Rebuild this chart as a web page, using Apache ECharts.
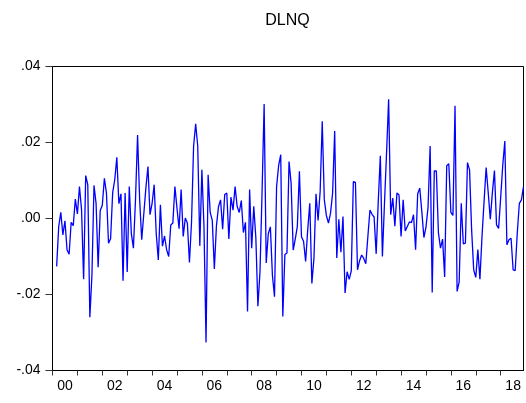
<!DOCTYPE html>
<html>
<head>
<meta charset="utf-8">
<script src="https://cdn.jsdelivr.net/npm/echarts@6/dist/echarts.min.js"></script>
<style>
html,body{margin:0;padding:0;background:#fff;}
#chart{width:526px;height:403px;}
</style>
</head>
<body>
<div id="chart"></div>
<script>
const title = 'DLNQ';
const years = [2000,2001,2002,2003,2004,2005,2006,2007,2008,2009,2010,2011,2012,2013,2014,2015,2016,2017,2018];
const leadingMissing = 2;
const dlnq = [
-0.0126,-0.0021,0.0016,-0.0043,-0.0006,-0.0082,-0.0094,-0.0010,-0.0019,0.0051,
0.0012,0.0084,0.0023,-0.0160,0.0113,0.0089,-0.0260,-0.0150,0.0087,0.0040,
-0.0128,0.0021,0.0035,0.0106,0.0067,-0.0065,-0.0053,0.0068,0.0102,0.0161,
0.0039,0.0065,-0.0164,0.0067,-0.0141,0.0084,-0.0040,-0.0078,0.0050,0.0220,
0.0050,-0.0056,0.0012,0.0080,0.0137,0.0010,0.0040,0.0089,-0.0040,-0.0109,
0.0036,-0.0073,-0.0046,-0.0082,-0.0100,-0.0017,-0.0012,0.0084,0.0027,-0.0027,
0.0076,-0.0047,0.0001,-0.0012,-0.0116,-0.0010,0.0190,0.0249,0.0190,-0.0072,
0.0128,-0.0020,-0.0326,0.0115,0.0016,-0.0005,-0.0133,-0.0020,0.0031,0.0049,
-0.0028,0.0063,0.0067,-0.0054,0.0056,0.0022,0.0084,0.0032,0.0016,0.0047,
-0.0037,-0.0010,-0.0245,0.0076,-0.0078,0.0032,-0.0050,-0.0231,-0.0140,0.0070,
0.0301,-0.0117,-0.0040,-0.0022,-0.0150,-0.0206,0.0084,0.0140,0.0168,-0.0258,
-0.0095,-0.0091,0.0150,0.0093,-0.0083,-0.0054,-0.0021,0.0124,-0.0048,-0.0060,
-0.0113,-0.0030,0.0040,-0.0171,-0.0105,0.0065,-0.0005,0.0072,0.0256,0.0049,
0.0008,-0.0012,0.0014,0.0067,0.0230,-0.0104,-0.0002,-0.0089,0.0005,-0.0196,
-0.0140,-0.0160,-0.0138,0.0097,0.0095,-0.0135,-0.0111,-0.0096,-0.0105,-0.0119,
-0.0047,0.0022,0.0011,0.0004,-0.0093,0.0045,0.0165,-0.0100,0.0040,0.0172,
0.0314,0.0010,0.0054,-0.0020,0.0067,0.0062,-0.0047,0.0049,-0.0033,-0.0021,
-0.0009,-0.0011,0.0010,-0.0082,0.0065,0.0080,0.0018,-0.0050,-0.0023,0.0030,
0.0191,-0.0195,0.0125,0.0125,-0.0038,-0.0078,-0.0054,-0.0154,0.0139,0.0144,
0.0016,0.0008,0.0297,-0.0192,-0.0167,0.0040,-0.0067,-0.0065,0.0147,0.0128,
-0.0030,-0.0135,-0.0155,-0.0082,-0.0160,-0.0047,0.0045,0.0134,0.0068,-0.0002,
0.0068,0.0126,-0.0017,-0.0026,0.0055,0.0140,0.0204,-0.0069,-0.0056,-0.0052,
-0.0135,-0.0137,-0.0038,0.0040,0.0049,0.0084
];
const yMin = -0.04, yMax = 0.04, yStep = 0.02;

const months = [];
years.forEach(y => { for (let m = 1; m <= 12; m++) months.push(y + '-' + (m < 10 ? '0' + m : m)); });
const seriesData = [];
for (let i = 0; i < leadingMissing; i++) seriesData.push(null);
dlnq.forEach(v => seriesData.push(v));

function fmtY(v) {
  if (Math.abs(v) < 1e-9) return '.00';
  const s = Math.abs(v).toFixed(2).replace(/^0/, '');
  return (v < 0 ? '-' : '') + s;
}

const FONT = 'Liberation Sans, Arial, sans-serif';
const chart = echarts.init(document.getElementById('chart'), null, {renderer: 'canvas'});
chart.setOption({
  animation: false,
  backgroundColor: '#ffffff',
  graphic: [{
    type: 'text',
    x: 287.5, y: 21,
    style: {text: title, fill: '#000', font: '16px ' + FONT, textAlign: 'center', textVerticalAlign: 'middle'}
  }],
  grid: {
    left: 52.5, right: 2.5, top: 66.5, bottom: 32.5,
    show: true, borderColor: '#000', borderWidth: 1, backgroundColor: 'transparent'
  },
  xAxis: {
    type: 'category',
    data: months,
    boundaryGap: false,
    axisLine: {show: true, onZero: false, lineStyle: {color: '#000', width: 1}},
    axisTick: {
      show: true, length: 5, inside: false,
      interval: (idx) => idx % 12 === 0,
      lineStyle: {color: '#333', width: 1}
    },
    axisLabel: {
      show: true,
      interval: (idx) => idx % 24 === 6,
      formatter: (v) => v.slice(2, 4),
      margin: 9,
      fontFamily: FONT, fontSize: 14, color: '#000'
    },
    splitLine: {show: false}
  },
  yAxis: {
    type: 'value',
    min: yMin, max: yMax, interval: yStep,
    axisLine: {show: true, lineStyle: {color: '#000', width: 1}},
    axisTick: {show: true, length: 7, inside: false, lineStyle: {color: '#333', width: 1}},
    axisLabel: {
      formatter: fmtY, margin: 12,
      fontFamily: FONT, fontSize: 14, color: '#000'
    },
    splitLine: {show: false}
  },
  series: [{
    type: 'line',
    data: seriesData,
    showSymbol: false,
    symbol: 'none',
    connectNulls: false,
    lineStyle: {color: '#0000ff', width: 1.3},
    itemStyle: {color: '#0000ff'}
  }]
});
</script>
</body>
</html>
